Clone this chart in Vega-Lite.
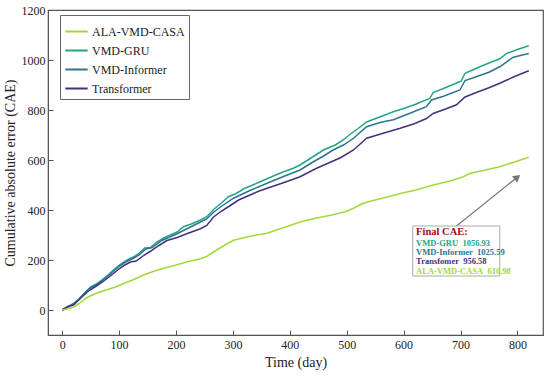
{
  "$schema": "https://vega.github.io/schema/vega-lite/v6.json",
  "width": 495,
  "height": 325,
  "autosize": {"type": "none"},
  "padding": {"left": 48, "top": 10, "right": 7, "bottom": 40},
  "background": "white",
  "config": {
    "font": "Times New Roman",
    "view": {"stroke": "#555555", "strokeWidth": 1.2},
    "axis": {
      "labelFont": "Times New Roman",
      "titleFont": "Times New Roman",
      "labelFontSize": 12,
      "titleFontSize": 14,
      "titleFontWeight": "normal",
      "labelColor": "#222222",
      "titleColor": "#222222",
      "domainColor": "#555555",
      "tickColor": "#555555",
      "grid": false
    }
  },
  "datasets": {
    "cae": [
      {"t": 0, "v": 0, "model": "VMD-GRU"}, {"t": 10, "v": 13, "model": "VMD-GRU"}, {"t": 20, "v": 26, "model": "VMD-GRU"}, {"t": 30, "v": 46, "model": "VMD-GRU"}, {"t": 40, "v": 70, "model": "VMD-GRU"}, {"t": 50, "v": 93, "model": "VMD-GRU"}, {"t": 60, "v": 104, "model": "VMD-GRU"}, {"t": 70, "v": 121, "model": "VMD-GRU"}, {"t": 80, "v": 139, "model": "VMD-GRU"}, {"t": 90, "v": 160, "model": "VMD-GRU"}, {"t": 100, "v": 179, "model": "VMD-GRU"}, {"t": 110, "v": 194, "model": "VMD-GRU"}, {"t": 118, "v": 205, "model": "VMD-GRU"}, {"t": 126, "v": 213, "model": "VMD-GRU"}, {"t": 135, "v": 226, "model": "VMD-GRU"}, {"t": 145, "v": 248, "model": "VMD-GRU"}, {"t": 155, "v": 250, "model": "VMD-GRU"}, {"t": 165, "v": 270, "model": "VMD-GRU"}, {"t": 178, "v": 288, "model": "VMD-GRU"}, {"t": 190, "v": 300, "model": "VMD-GRU"}, {"t": 202, "v": 312, "model": "VMD-GRU"}, {"t": 213, "v": 333, "model": "VMD-GRU"}, {"t": 228, "v": 345, "model": "VMD-GRU"}, {"t": 243, "v": 360, "model": "VMD-GRU"}, {"t": 254, "v": 373, "model": "VMD-GRU"}, {"t": 266, "v": 402, "model": "VMD-GRU"}, {"t": 280, "v": 428, "model": "VMD-GRU"}, {"t": 292, "v": 453, "model": "VMD-GRU"}, {"t": 305, "v": 465, "model": "VMD-GRU"}, {"t": 320, "v": 486, "model": "VMD-GRU"}, {"t": 335, "v": 500, "model": "VMD-GRU"}, {"t": 348, "v": 513, "model": "VMD-GRU"}, {"t": 370, "v": 535, "model": "VMD-GRU"}, {"t": 389, "v": 553, "model": "VMD-GRU"}, {"t": 405, "v": 566, "model": "VMD-GRU"}, {"t": 418, "v": 580, "model": "VMD-GRU"}, {"t": 440, "v": 612, "model": "VMD-GRU"}, {"t": 459, "v": 640, "model": "VMD-GRU"}, {"t": 480, "v": 660, "model": "VMD-GRU"}, {"t": 495, "v": 682, "model": "VMD-GRU"}, {"t": 506, "v": 703, "model": "VMD-GRU"}, {"t": 520, "v": 726, "model": "VMD-GRU"}, {"t": 535, "v": 752, "model": "VMD-GRU"}, {"t": 558, "v": 772, "model": "VMD-GRU"}, {"t": 582, "v": 793, "model": "VMD-GRU"}, {"t": 600, "v": 806, "model": "VMD-GRU"}, {"t": 620, "v": 822, "model": "VMD-GRU"}, {"t": 646, "v": 846, "model": "VMD-GRU"}, {"t": 652, "v": 870, "model": "VMD-GRU"}, {"t": 670, "v": 886, "model": "VMD-GRU"}, {"t": 690, "v": 905, "model": "VMD-GRU"}, {"t": 701, "v": 915, "model": "VMD-GRU"}, {"t": 708, "v": 947, "model": "VMD-GRU"}, {"t": 720, "v": 959, "model": "VMD-GRU"}, {"t": 734, "v": 973, "model": "VMD-GRU"}, {"t": 750, "v": 988, "model": "VMD-GRU"}, {"t": 769, "v": 1005, "model": "VMD-GRU"}, {"t": 781, "v": 1026, "model": "VMD-GRU"}, {"t": 800, "v": 1042, "model": "VMD-GRU"}, {"t": 820, "v": 1057, "model": "VMD-GRU"},

      {"t": 0, "v": 0, "model": "VMD-Informer"}, {"t": 10, "v": 12, "model": "VMD-Informer"}, {"t": 20, "v": 25, "model": "VMD-Informer"}, {"t": 30, "v": 44, "model": "VMD-Informer"}, {"t": 44, "v": 78, "model": "VMD-Informer"}, {"t": 50, "v": 88, "model": "VMD-Informer"}, {"t": 60, "v": 101, "model": "VMD-Informer"}, {"t": 70, "v": 117, "model": "VMD-Informer"}, {"t": 80, "v": 135, "model": "VMD-Informer"}, {"t": 90, "v": 155, "model": "VMD-Informer"}, {"t": 100, "v": 175, "model": "VMD-Informer"}, {"t": 110, "v": 190, "model": "VMD-Informer"}, {"t": 126, "v": 208, "model": "VMD-Informer"}, {"t": 135, "v": 220, "model": "VMD-Informer"}, {"t": 147, "v": 244, "model": "VMD-Informer"}, {"t": 158, "v": 250, "model": "VMD-Informer"}, {"t": 175, "v": 278, "model": "VMD-Informer"}, {"t": 190, "v": 293, "model": "VMD-Informer"}, {"t": 202, "v": 305, "model": "VMD-Informer"}, {"t": 220, "v": 326, "model": "VMD-Informer"}, {"t": 243, "v": 352, "model": "VMD-Informer"}, {"t": 254, "v": 364, "model": "VMD-Informer"}, {"t": 266, "v": 391, "model": "VMD-Informer"}, {"t": 280, "v": 415, "model": "VMD-Informer"}, {"t": 301, "v": 447, "model": "VMD-Informer"}, {"t": 315, "v": 462, "model": "VMD-Informer"}, {"t": 330, "v": 478, "model": "VMD-Informer"}, {"t": 360, "v": 507, "model": "VMD-Informer"}, {"t": 390, "v": 535, "model": "VMD-Informer"}, {"t": 418, "v": 560, "model": "VMD-Informer"}, {"t": 440, "v": 591, "model": "VMD-Informer"}, {"t": 460, "v": 617, "model": "VMD-Informer"}, {"t": 476, "v": 640, "model": "VMD-Informer"}, {"t": 495, "v": 661, "model": "VMD-Informer"}, {"t": 512, "v": 687, "model": "VMD-Informer"}, {"t": 535, "v": 733, "model": "VMD-Informer"}, {"t": 560, "v": 751, "model": "VMD-Informer"}, {"t": 582, "v": 761, "model": "VMD-Informer"}, {"t": 610, "v": 786, "model": "VMD-Informer"}, {"t": 640, "v": 813, "model": "VMD-Informer"}, {"t": 649, "v": 840, "model": "VMD-Informer"}, {"t": 670, "v": 855, "model": "VMD-Informer"}, {"t": 699, "v": 880, "model": "VMD-Informer"}, {"t": 708, "v": 918, "model": "VMD-Informer"}, {"t": 730, "v": 935, "model": "VMD-Informer"}, {"t": 750, "v": 951, "model": "VMD-Informer"}, {"t": 769, "v": 973, "model": "VMD-Informer"}, {"t": 792, "v": 1010, "model": "VMD-Informer"}, {"t": 805, "v": 1018, "model": "VMD-Informer"}, {"t": 820, "v": 1026, "model": "VMD-Informer"},

      {"t": 0, "v": 0, "model": "Transformer"}, {"t": 10, "v": 14, "model": "Transformer"}, {"t": 20, "v": 20, "model": "Transformer"}, {"t": 30, "v": 42, "model": "Transformer"}, {"t": 44, "v": 72, "model": "Transformer"}, {"t": 50, "v": 82, "model": "Transformer"}, {"t": 60, "v": 96, "model": "Transformer"}, {"t": 70, "v": 111, "model": "Transformer"}, {"t": 80, "v": 128, "model": "Transformer"}, {"t": 90, "v": 146, "model": "Transformer"}, {"t": 100, "v": 165, "model": "Transformer"}, {"t": 110, "v": 180, "model": "Transformer"}, {"t": 120, "v": 192, "model": "Transformer"}, {"t": 130, "v": 196, "model": "Transformer"}, {"t": 143, "v": 218, "model": "Transformer"}, {"t": 155, "v": 235, "model": "Transformer"}, {"t": 170, "v": 258, "model": "Transformer"}, {"t": 184, "v": 278, "model": "Transformer"}, {"t": 202, "v": 290, "model": "Transformer"}, {"t": 220, "v": 306, "model": "Transformer"}, {"t": 243, "v": 325, "model": "Transformer"}, {"t": 254, "v": 338, "model": "Transformer"}, {"t": 266, "v": 372, "model": "Transformer"}, {"t": 278, "v": 393, "model": "Transformer"}, {"t": 292, "v": 413, "model": "Transformer"}, {"t": 310, "v": 440, "model": "Transformer"}, {"t": 330, "v": 460, "model": "Transformer"}, {"t": 345, "v": 475, "model": "Transformer"}, {"t": 360, "v": 487, "model": "Transformer"}, {"t": 390, "v": 510, "model": "Transformer"}, {"t": 418, "v": 533, "model": "Transformer"}, {"t": 447, "v": 567, "model": "Transformer"}, {"t": 470, "v": 590, "model": "Transformer"}, {"t": 490, "v": 610, "model": "Transformer"}, {"t": 512, "v": 640, "model": "Transformer"}, {"t": 535, "v": 687, "model": "Transformer"}, {"t": 564, "v": 707, "model": "Transformer"}, {"t": 594, "v": 727, "model": "Transformer"}, {"t": 620, "v": 746, "model": "Transformer"}, {"t": 640, "v": 766, "model": "Transformer"}, {"t": 652, "v": 786, "model": "Transformer"}, {"t": 675, "v": 805, "model": "Transformer"}, {"t": 693, "v": 821, "model": "Transformer"}, {"t": 708, "v": 852, "model": "Transformer"}, {"t": 730, "v": 872, "model": "Transformer"}, {"t": 750, "v": 889, "model": "Transformer"}, {"t": 769, "v": 907, "model": "Transformer"}, {"t": 795, "v": 934, "model": "Transformer"}, {"t": 820, "v": 957, "model": "Transformer"},

      {"t": 0, "v": 0, "model": "ALA-VMD-CASA"}, {"t": 10, "v": 5, "model": "ALA-VMD-CASA"}, {"t": 20, "v": 12, "model": "ALA-VMD-CASA"}, {"t": 30, "v": 26, "model": "ALA-VMD-CASA"}, {"t": 41, "v": 46, "model": "ALA-VMD-CASA"}, {"t": 50, "v": 57, "model": "ALA-VMD-CASA"}, {"t": 60, "v": 67, "model": "ALA-VMD-CASA"}, {"t": 70, "v": 75, "model": "ALA-VMD-CASA"}, {"t": 80, "v": 82, "model": "ALA-VMD-CASA"}, {"t": 96, "v": 94, "model": "ALA-VMD-CASA"}, {"t": 110, "v": 108, "model": "ALA-VMD-CASA"}, {"t": 126, "v": 122, "model": "ALA-VMD-CASA"}, {"t": 143, "v": 140, "model": "ALA-VMD-CASA"}, {"t": 160, "v": 154, "model": "ALA-VMD-CASA"}, {"t": 180, "v": 168, "model": "ALA-VMD-CASA"}, {"t": 202, "v": 181, "model": "ALA-VMD-CASA"}, {"t": 220, "v": 193, "model": "ALA-VMD-CASA"}, {"t": 243, "v": 205, "model": "ALA-VMD-CASA"}, {"t": 254, "v": 214, "model": "ALA-VMD-CASA"}, {"t": 266, "v": 232, "model": "ALA-VMD-CASA"}, {"t": 280, "v": 252, "model": "ALA-VMD-CASA"}, {"t": 301, "v": 279, "model": "ALA-VMD-CASA"}, {"t": 330, "v": 295, "model": "ALA-VMD-CASA"}, {"t": 360, "v": 307, "model": "ALA-VMD-CASA"}, {"t": 390, "v": 330, "model": "ALA-VMD-CASA"}, {"t": 418, "v": 352, "model": "ALA-VMD-CASA"}, {"t": 445, "v": 367, "model": "ALA-VMD-CASA"}, {"t": 476, "v": 381, "model": "ALA-VMD-CASA"}, {"t": 500, "v": 395, "model": "ALA-VMD-CASA"}, {"t": 512, "v": 407, "model": "ALA-VMD-CASA"}, {"t": 529, "v": 427, "model": "ALA-VMD-CASA"}, {"t": 550, "v": 440, "model": "ALA-VMD-CASA"}, {"t": 570, "v": 451, "model": "ALA-VMD-CASA"}, {"t": 594, "v": 466, "model": "ALA-VMD-CASA"}, {"t": 620, "v": 479, "model": "ALA-VMD-CASA"}, {"t": 652, "v": 500, "model": "ALA-VMD-CASA"}, {"t": 680, "v": 515, "model": "ALA-VMD-CASA"}, {"t": 705, "v": 533, "model": "ALA-VMD-CASA"}, {"t": 716, "v": 546, "model": "ALA-VMD-CASA"}, {"t": 740, "v": 558, "model": "ALA-VMD-CASA"}, {"t": 769, "v": 573, "model": "ALA-VMD-CASA"}, {"t": 795, "v": 592, "model": "ALA-VMD-CASA"}, {"t": 820, "v": 611, "model": "ALA-VMD-CASA"}
    ],
    "finals": [
      {"model": "VMD-GRU", "label": "VMD-GRU\u00a0\u00a01056.93", "t": 622, "v": 269},
      {"model": "VMD-Informer", "label": "VMD-Informer\u00a0\u00a01025.59", "t": 622, "v": 233},
      {"model": "Transformer", "label": "Transfomer\u00a0\u00a0956.58", "t": 622, "v": 197},
      {"model": "ALA-VMD-CASA", "label": "ALA-VMD-CASA\u00a0\u00a0610.98", "t": 622, "v": 156}
    ]
  },
  "layer": [
    {
      "data": {"name": "cae"},
      "mark": {"type": "line", "strokeWidth": 1.5, "interpolate": "linear"},
      "encoding": {
        "x": {
          "field": "t", "type": "quantitative",
          "scale": {"domain": [-25, 845], "nice": false, "zero": false},
          "axis": {
            "title": "Time (day)",
            "format": "d",
            "values": [0, 50, 100, 150, 200, 250, 300, 350, 400, 450, 500, 550, 600, 650, 700, 750, 800],
            "labelExpr": "datum.value % 100 === 0 ? datum.label : ''",
            "tickSize": {"condition": {"test": "datum.value % 100 === 0", "value": -5}, "value": -3},
            "labelPadding": 9,
            "titlePadding": 5
          }
        },
        "y": {
          "field": "v", "type": "quantitative",
          "scale": {"domain": [-100, 1200], "nice": false, "zero": false},
          "axis": {
            "title": "Cumulative absolute error (CAE)",
            "format": "d",
            "values": [0, 100, 200, 300, 400, 500, 600, 700, 800, 900, 1000, 1100, 1200],
            "labelExpr": "datum.value % 200 === 0 ? datum.label : ''",
            "tickSize": {"condition": {"test": "datum.value % 200 === 0", "value": -5}, "value": -3},
            "labelPadding": 8,
            "titlePadding": 4
          }
        },
        "color": {
          "field": "model", "type": "nominal",
          "scale": {
            "domain": ["ALA-VMD-CASA", "VMD-GRU", "VMD-Informer", "Transformer"],
            "range": ["#a2d93a", "#22a586", "#2c7490", "#46307e"]
          },
          "legend": {
            "title": null,
            "orient": "none",
            "legendX": 12,
            "legendY": 5,
            "strokeColor": "#666666",
            "fillColor": "white",
            "padding": 4,
            "labelFont": "Times New Roman",
            "labelFontSize": 12,
            "labelColor": "#222222",
            "symbolType": "stroke",
            "symbolSize": 500,
            "symbolStrokeWidth": 2,
            "rowPadding": 0,
            "labelOffset": 3
          }
        },
        "detail": {"field": "model"}
      }
    },
    {
      "data": {"values": [{"t1": 693, "v1": 336, "t2": 798, "v2": 528}]},
      "mark": {"type": "rule", "color": "#777777", "strokeWidth": 1.2},
      "encoding": {
        "x": {"field": "t1", "type": "quantitative"},
        "y": {"field": "v1", "type": "quantitative"},
        "x2": {"field": "t2"},
        "y2": {"field": "v2"}
      }
    },
    {
      "data": {"values": [{"t": 800, "v": 531}]},
      "mark": {"type": "point", "shape": "triangle-up", "filled": true, "color": "#777777", "size": 70, "angle": 51, "opacity": 1},
      "encoding": {
        "x": {"field": "t", "type": "quantitative"},
        "y": {"field": "v", "type": "quantitative"}
      }
    },
    {
      "data": {"values": [{"t1": 616, "v1": 336, "t2": 769, "v2": 136}]},
      "mark": {"type": "rect", "fill": "white", "stroke": "#aaaaaa", "strokeWidth": 1},
      "encoding": {
        "x": {"field": "t1", "type": "quantitative"},
        "y": {"field": "v1", "type": "quantitative"},
        "x2": {"field": "t2"},
        "y2": {"field": "v2"}
      }
    },
    {
      "data": {"values": [{"label": "Final CAE:", "t": 622, "v": 311}]},
      "mark": {"type": "text", "align": "left", "baseline": "middle", "font": "Times New Roman", "fontSize": 10.5, "fontWeight": "bold", "color": "#9b1010"},
      "encoding": {
        "x": {"field": "t", "type": "quantitative"},
        "y": {"field": "v", "type": "quantitative"},
        "text": {"field": "label"}
      }
    },
    {
      "data": {"name": "finals"},
      "mark": {"type": "text", "align": "left", "baseline": "middle", "font": "Times New Roman", "fontSize": 8.5, "fontWeight": "bold"},
      "encoding": {
        "x": {"field": "t", "type": "quantitative"},
        "y": {"field": "v", "type": "quantitative"},
        "text": {"field": "label"},
        "color": {"field": "model", "type": "nominal", "legend": null}
      }
    }
  ]
}
